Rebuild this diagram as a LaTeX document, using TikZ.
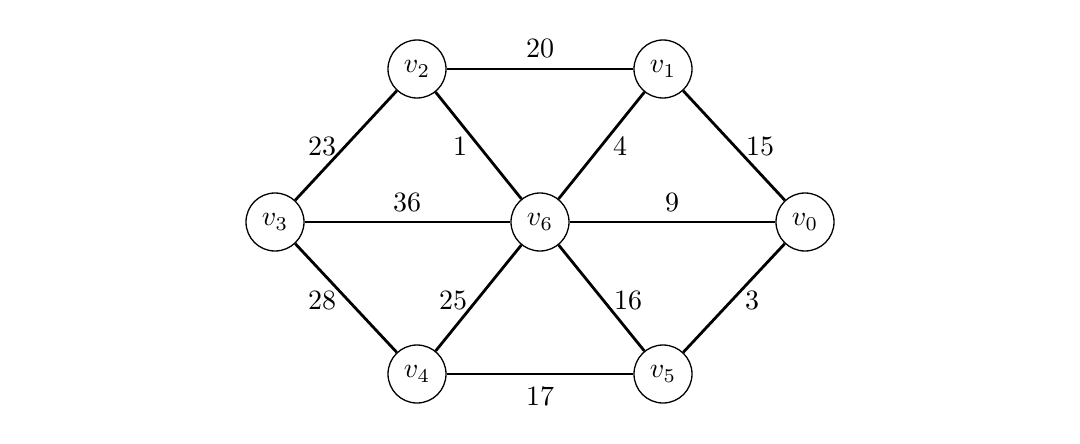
\documentclass[tikz,border=0pt]{standalone}
\usepackage{graphicx}
\newcommand{\vlab}[1]{\scalebox{2.8}{$v_{#1}$}}
\newcommand{\wnum}[1]{\scalebox{2.8}{#1}}
\begin{document}
\begin{tikzpicture}[x=1pt,y=-1pt,
  vert/.style={circle,draw,line width=1.3pt,minimum size=58pt,inner sep=0pt},
  edge/.style={line width=2.8pt},
  wlab/.style={inner sep=0pt}]
\useasboundingbox (0,0) rectangle (1080,444);
\node[vert] (v2) at (417,69) {\vlab{2}};
\node[vert] (v1) at (663,69) {\vlab{1}};
\node[vert] (v3) at (275,222) {\vlab{3}};
\node[vert] (v6) at (540,222) {\vlab{6}};
\node[vert] (v0) at (805,222) {\vlab{0}};
\node[vert] (v4) at (417,374) {\vlab{4}};
\node[vert] (v5) at (663,374) {\vlab{5}};
\draw[edge] (v2) -- (v1);
\draw[edge] (v3) -- (v2);
\draw[edge] (v2) -- (v6);
\draw[edge] (v6) -- (v1);
\draw[edge] (v1) -- (v0);
\draw[edge] (v3) -- (v6);
\draw[edge] (v6) -- (v0);
\draw[edge] (v3) -- (v4);
\draw[edge] (v4) -- (v6);
\draw[edge] (v6) -- (v5);
\draw[edge] (v5) -- (v0);
\draw[edge] (v4) -- (v5);
\node[wlab] (l20) at (540,48) {\wnum{20}};
\node[wlab] (l23) at (322,146) {\wnum{23}};
\node[wlab] (l1) at (460,146) {\wnum{1}};
\node[wlab] (l4) at (620,146) {\wnum{4}};
\node[wlab] (l15) at (760,146) {\wnum{15}};
\node[wlab] (l36) at (407,202) {\wnum{36}};
\node[wlab] (l9) at (672,202) {\wnum{9}};
\node[wlab] (l28) at (322,300) {\wnum{28}};
\node[wlab] (l25) at (453,300) {\wnum{25}};
\node[wlab] (l16) at (628,300) {\wnum{16}};
\node[wlab] (l3) at (752,300) {\wnum{3}};
\node[wlab] (l17) at (540,396) {\wnum{17}};
\end{tikzpicture}
\end{document}
